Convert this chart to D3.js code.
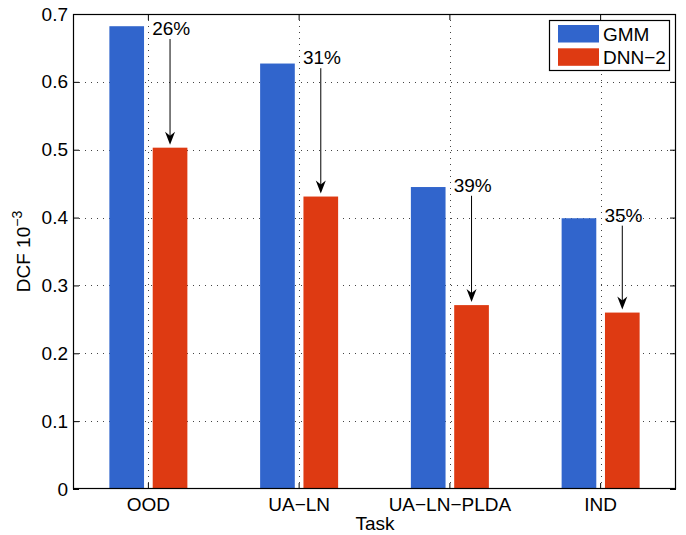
<!DOCTYPE html>
<html>
<head>
<meta charset="utf-8">
<script src="https://cdn.jsdelivr.net/npm/d3@7"></script>
<style>
  body { margin: 0; background: #fff; }
  text { font-family: "Liberation Sans", Arial, Helvetica, sans-serif; }
</style>
</head>
<body>
<svg id="chart" width="686" height="535"></svg>
<script>
// ---- data ----
const categories = ["OOD", "UA\u2212LN", "UA\u2212LN\u2212PLDA", "IND"];
const seriesNames = ["GMM", "DNN\u22122"];
const gmmValues = [0.682, 0.627, 0.445, 0.399];
const dnnValues = [0.503, 0.431, 0.271, 0.260];
const reductionLabels = ["26%", "31%", "39%", "35%"];
const labelLevels = [0.669, 0.626, 0.438, 0.394];
const yTicks = [0, 0.1, 0.2, 0.3, 0.4, 0.5, 0.6, 0.7];
const seriesColors = ["#3165cc", "#de3a12"];

// ---- layout ----
const FS = 19;
const plot = { left: 73, right: 676, top: 14, bottom: 489 };
const svg = d3.select("#chart");

const x = d3.scaleBand().domain(categories).range([plot.left, plot.right]).padding(0);
const xInner = d3.scaleBand().domain(seriesNames).range([-39, 39]).paddingInner(0.2);
const y = d3.scaleLinear().domain([0, 0.7]).range([plot.bottom, plot.top]);
const color = d3.scaleOrdinal().domain(seriesNames).range(seriesColors);

const cx = c => x(c) + x.bandwidth() / 2;

// gridlines
const grid = svg.append("g");
grid.selectAll("line.hg").data(yTicks.slice(1, -1)).join("line")
  .attr("x1", plot.left).attr("x2", plot.right)
  .attr("y1", d => Math.round(y(d)) + 0.5).attr("y2", d => Math.round(y(d)) + 0.5)
  .attr("stroke", "#444").attr("stroke-width", 1).attr("stroke-dasharray", "1,5");
grid.selectAll("line.vg").data(categories).join("line")
  .attr("x1", d => Math.round(cx(d)) + 0.5).attr("x2", d => Math.round(cx(d)) + 0.5)
  .attr("y1", plot.top).attr("y2", plot.bottom)
  .attr("stroke", "#444").attr("stroke-width", 1).attr("stroke-dasharray", "1,5");

// bars
const rows = categories.map((c, i) => ({ cat: c, vals: [gmmValues[i], dnnValues[i]] }));
const groups = svg.append("g").selectAll("g").data(rows).join("g")
  .attr("transform", d => `translate(${cx(d.cat)},0)`);
groups.selectAll("rect").data(d => d.vals.map((v, j) => ({ s: seriesNames[j], v }))).join("rect")
  .attr("x", d => xInner(d.s))
  .attr("width", xInner.bandwidth())
  .attr("y", d => y(d.v))
  .attr("height", d => y(0) - y(d.v))
  .attr("fill", d => color(d.s));

// axes frame
svg.append("rect")
  .attr("x", plot.left + 0.5).attr("y", plot.top + 0.5)
  .attr("width", plot.right - plot.left - 1).attr("height", plot.bottom - plot.top - 1)
  .attr("fill", "none").attr("stroke", "#000").attr("stroke-width", 1.2);

// y axis (left) with inward ticks
const yAxisL = d3.axisLeft(y).tickValues(yTicks).tickSizeInner(-6).tickSizeOuter(0)
  .tickPadding(5).tickFormat(d => d === 0 ? "0" : d3.format(".1f")(d));
const gy = svg.append("g").attr("transform", `translate(${plot.left},0)`).call(yAxisL);
gy.select(".domain").remove();
gy.selectAll("text").attr("font-size", FS).attr("fill", "#000")
  .attr("font-family", "Liberation Sans, Arial, sans-serif");
const yAxisR = d3.axisRight(y).tickValues(yTicks).tickSizeInner(-6).tickSizeOuter(0).tickFormat("");
const gyr = svg.append("g").attr("transform", `translate(${plot.right},0)`).call(yAxisR);
gyr.select(".domain").remove();

// x axis bottom and top
const xAxisB = d3.axisBottom(x).tickSizeInner(-6).tickSizeOuter(0).tickPadding(9);
const gx = svg.append("g").attr("transform", `translate(0,${plot.bottom})`).call(xAxisB);
gx.select(".domain").remove();
gx.selectAll("text").attr("font-size", FS).attr("fill", "#000")
  .attr("font-family", "Liberation Sans, Arial, sans-serif");
const xAxisT = d3.axisTop(x).tickSizeInner(-6).tickSizeOuter(0).tickFormat("");
const gxt = svg.append("g").attr("transform", `translate(0,${plot.top})`).call(xAxisT);
gxt.select(".domain").remove();
svg.selectAll(".tick line").attr("stroke", "#000");

// axis titles
svg.append("text").attr("x", 375).attr("y", 530)
  .attr("text-anchor", "middle").attr("font-size", FS).text("Task");
const yl = svg.append("text")
  .attr("transform", `translate(30,${(plot.top + plot.bottom) / 2}) rotate(-90)`)
  .attr("text-anchor", "middle").attr("font-size", FS);
yl.append("tspan").text("DCF 10");
yl.append("tspan").attr("font-size", 14).attr("dy", -8).text("\u22123");

// annotations: reduction arrows
const ann = svg.append("g");
categories.forEach((c, i) => {
  const redX = cx(c) + xInner(seriesNames[1]);
  const ax = redX + xInner.bandwidth() / 2;
  const ty = y(labelLevels[i]);
  ann.append("text").attr("x", redX - 0.5).attr("y", ty)
    .attr("font-size", FS).attr("fill", "#000").text(reductionLabels[i]);
  const y0 = ty + 4, y1 = y(dnnValues[i]) - 3;
  ann.append("line").attr("x1", ax).attr("x2", ax).attr("y1", y0).attr("y2", y1 - 6)
    .attr("stroke", "#000").attr("stroke-width", 1);
  ann.append("path")
    .attr("d", `M${ax},${y1} L${ax - 5},${y1 - 13} L${ax},${y1 - 9} L${ax + 5},${y1 - 13} Z`)
    .attr("fill", "#000");
});

// legend
const lg = svg.append("g");
lg.append("rect").attr("x", 549.5).attr("y", 20.5).attr("width", 120).attr("height", 50)
  .attr("fill", "#fff").attr("stroke", "#000").attr("stroke-width", 1.2);
seriesNames.forEach((s, j) => {
  const sy = 25 + j * 23.3;
  lg.append("rect").attr("x", 558).attr("y", sy).attr("width", 41).attr("height", 17.5)
    .attr("fill", color(s));
  lg.append("text").attr("x", 603).attr("y", sy + 15.5).attr("font-size", FS).text(s);
});
</script>
</body>
</html>
